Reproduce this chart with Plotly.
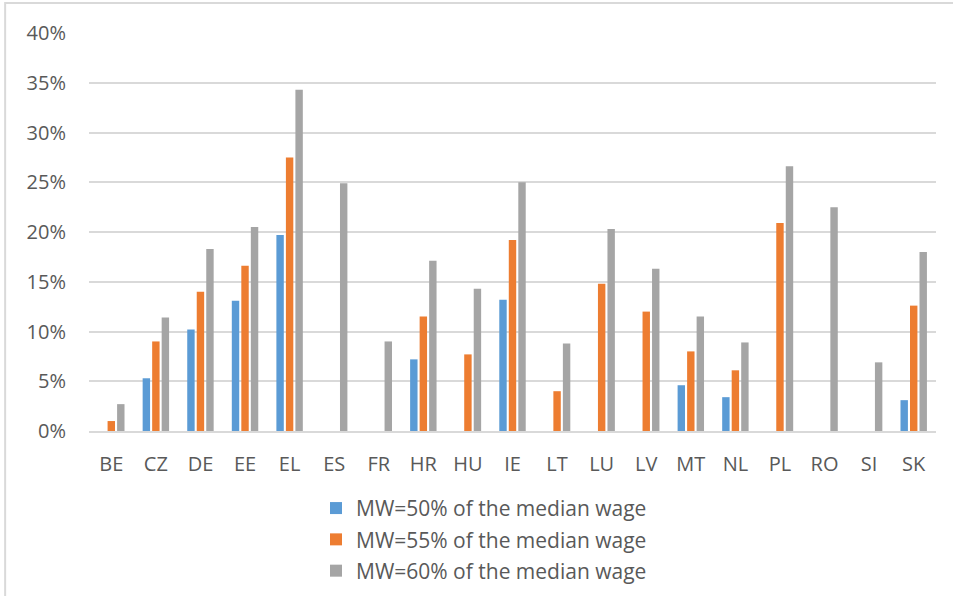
import plotly.graph_objects as go

countries = ["BE", "CZ", "DE", "EE", "EL", "ES", "FR", "HR", "HU", "IE",
             "LT", "LU", "LV", "MT", "NL", "PL", "RO", "SI", "SK"]

mw50 = [None, 5.3, 10.2, 13.1, 19.7, None, None, 7.2, None, 13.2,
        None, None, None, 4.6, 3.4, None, None, None, 3.1]
mw55 = [1.0, 9.0, 14.0, 16.6, 27.5, None, None, 11.5, 7.7, 19.2,
        4.0, 14.8, 12.0, 8.0, 6.1, 20.9, None, None, 12.6]
mw60 = [2.7, 11.4, 18.3, 20.5, 34.3, 24.9, 9.0, 17.1, 14.3, 25.0,
        8.8, 20.3, 16.3, 11.5, 8.9, 26.6, 22.5, 6.9, 18.0]

series_names = ["MW=50% of the median wage",
                "MW=55% of the median wage",
                "MW=60% of the median wage"]
colors = ["#5B9BD5", "#ED7D31", "#A5A5A5"]

fig = go.Figure()
for i, (name, vals) in enumerate(zip(series_names, [mw50, mw55, mw60])):
    fig.add_trace(go.Bar(x=countries, y=vals, name=name,
                         marker_color=colors[i], marker_line_width=0,
                         legendgroup="g%d" % i))

font_family = "Open Sans, Liberation Sans, sans-serif"
fig.update_layout(
    barmode="group",
    bargap=0.36,
    bargroupgap=0.22,
    width=953, height=596,
    margin=dict(l=89, r=17, t=33, b=165, autoexpand=False),
    plot_bgcolor="white",
    paper_bgcolor="white",
    font=dict(family=font_family, size=20, color="#595959"),
    legend=dict(orientation="v", x=0.268, xanchor="left", y=-0.143, yanchor="top",
                font=dict(size=21, color="#595959"), tracegroupgap=1,
                itemwidth=30),
    shapes=[dict(type="rect", xref="paper", yref="paper",
                 x0=-0.099, x1=1.1, y0=-0.5, y1=1.0754,
                 line=dict(color="#D9D9D9", width=2))],
)
fig.update_yaxes(range=[0, 40], dtick=5, ticksuffix="%", showgrid=True,
                 gridcolor="#D9D9D9", gridwidth=1.5, zeroline=False,
                 showline=False, ticks="", tickfont=dict(size=20),
                 automargin=False, ticklabelstandoff=22)
fig.update_xaxes(showline=True, linecolor="#D9D9D9", linewidth=1.5,
                 ticks="", tickfont=dict(size=20), automargin=False,
                 ticklabelstandoff=14)

fig.write_html("out.html", config={"displayModeBar": False},
               post_script="document.body.style.margin='0';")
